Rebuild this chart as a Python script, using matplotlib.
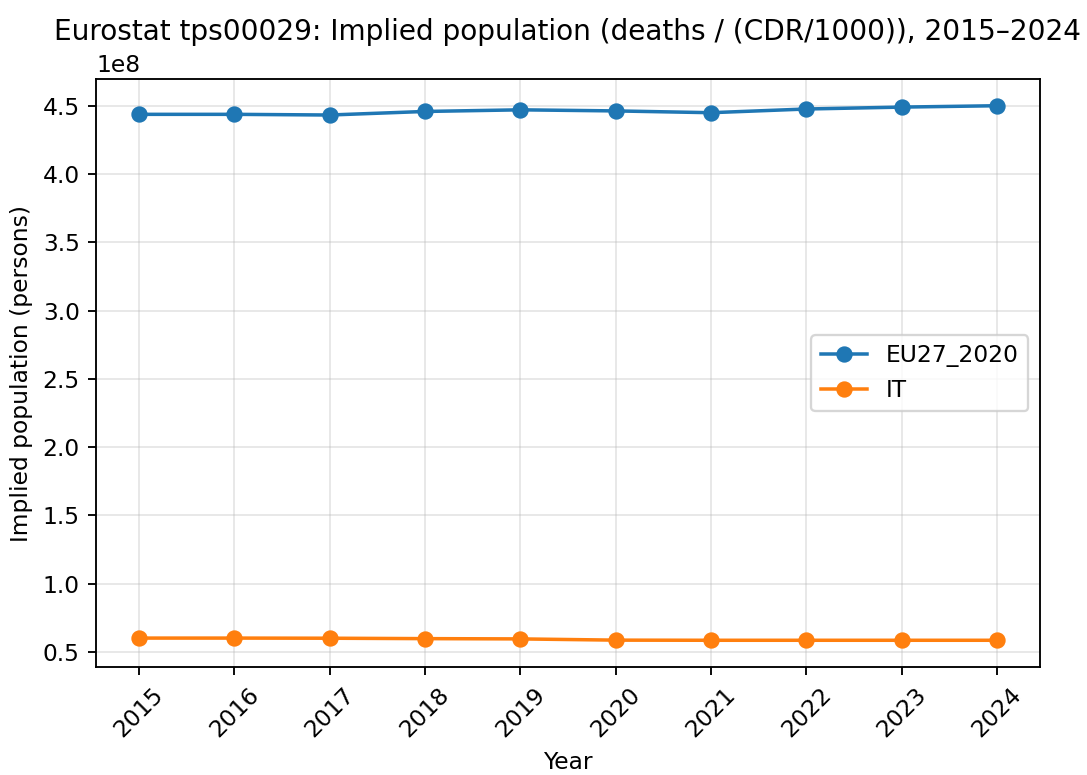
import numpy as np
import pandas as pd
import matplotlib
matplotlib.use("Agg")
import matplotlib.pyplot as plt

years = [2015, 2016, 2017, 2018, 2019, 2020, 2021, 2022, 2023, 2024]

# implied population = deaths / (crude death rate / 1000)
eu27 = [443.7e6, 443.7e6, 443.2e6, 445.8e6, 447.0e6, 446.2e6, 444.9e6, 447.6e6, 449.0e6, 450.0e6]
italy = [60.2e6, 60.2e6, 60.1e6, 59.8e6, 59.6e6, 58.7e6, 58.6e6, 58.6e6, 58.6e6, 58.6e6]

df = pd.DataFrame({"EU27_2020": eu27, "IT": italy}, index=years)

DPI = 168
fig = plt.figure(figsize=(1087 / DPI, 775 / DPI), dpi=DPI)
ax = fig.add_axes([96 / 1087, 1 - 667 / 775, 944 / 1087, 588 / 775])

for col in df.columns:
    ax.plot(df.index, df[col], marker="o", label=col)

ax.set_title("Eurostat tps00029: Implied population (deaths / (CDR/1000)), 2015–2024")
ax.set_xlabel("Year")
ax.set_ylabel("Implied population (persons)")
ax.set_xticks(years)
ax.set_xticklabels([str(y) for y in years], rotation=45)
ax.grid(True, alpha=0.3)
ax.legend(loc="center right")

fig.savefig("out.png", dpi=DPI)
